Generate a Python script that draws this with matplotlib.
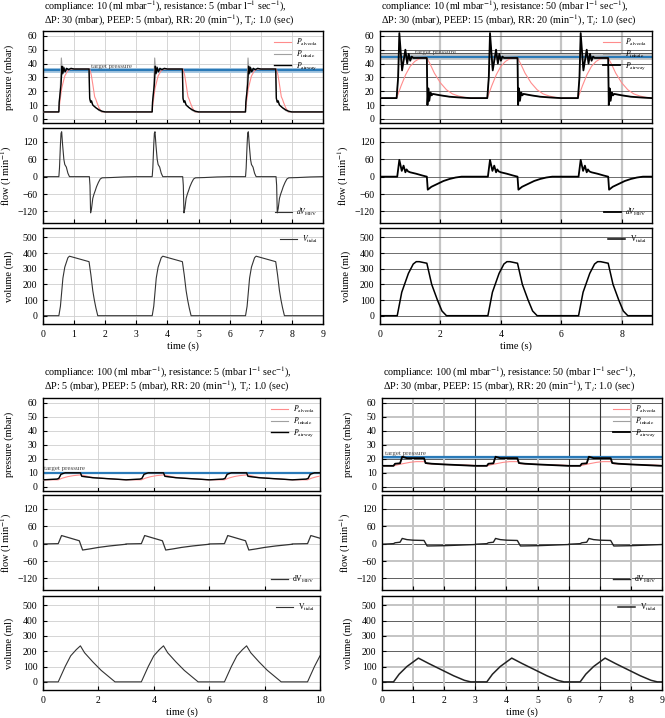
import numpy as np
import matplotlib
matplotlib.use("Agg")
import matplotlib.pyplot as plt

plt.rcParams['font.family'] = ['Liberation Serif', 'DejaVu Serif']
plt.rcParams['mathtext.fontset'] = 'stix'

# ---------------- data (one breathing cycle, period 3 s) ----------------
PERIOD = 3.0

title_line1 = [
    "compliance: 10 (ml mbar$^{-1}$), resistance: 5 (mbar l$^{-1}$ sec$^{-1}$),",
    "compliance: 10 (ml mbar$^{-1}$), resistance: 50 (mbar l$^{-1}$ sec$^{-1}$),",
    "compliance: 100 (ml mbar$^{-1}$), resistance: 5 (mbar l$^{-1}$ sec$^{-1}$),",
    "compliance: 100 (ml mbar$^{-1}$), resistance: 50 (mbar l$^{-1}$ sec$^{-1}$),",
]
title_line2 = [
    "ΔP: 30 (mbar), PEEP: 5 (mbar), RR: 20 (min$^{-1}$), T$_{i}$: 1.0 (sec)",
    "ΔP: 30 (mbar), PEEP: 15 (mbar), RR: 20 (min$^{-1}$), T$_{i}$: 1.0 (sec)",
    "ΔP: 5 (mbar), PEEP: 5 (mbar), RR: 20 (min$^{-1}$), T$_{i}$: 1.0 (sec)",
    "ΔP: 30 (mbar, PEEP: 15 (mbar), RR: 20 (min$^{-1}$), T$_{i}$: 1.0 (sec)",
]

target_pressure = [35, 45, 10, 21]
n_cycles = [3, 3, 4, 3]
x_max = [9, 9, 10, 9]

# Panel A
A_t_alv = [0, 0.5, 0.6, 0.7, 0.8, 0.9, 1.5, 1.55, 1.6, 1.66, 1.7, 1.73, 1.8, 1.88, 3.0]
A_p_alv = [5, 5, 22, 31, 35, 36, 36, 32, 25, 16, 14, 12, 8, 5, 5]
A_t_inh = [0, 0.5, 0.55, 0.59, 0.63, 0.66, 0.7, 0.75, 0.8, 1.48, 1.5, 1.55, 1.6, 1.7, 1.8, 1.9, 2.0, 3.0]
A_p_inh = [5, 5, 20, 44, 32, 38, 34, 36.5, 36, 36, 14, 12, 10, 8, 6, 5, 5, 5]
A_t_air = [0, 0.51, 0.52, 0.58, 0.61, 0.64, 0.67, 0.71, 0.76, 0.82, 0.9, 1.0, 1.48, 1.5, 1.53, 1.56, 1.6, 1.65, 1.7, 1.8, 1.9, 2.0, 3.0]
A_p_air = [5, 5, 12, 25, 38, 33, 37, 34, 36.5, 35.5, 36.5, 36, 36, 15, 12, 13, 10, 9, 8, 6.5, 5.5, 5, 5]
A_t_flow = [0, 0.51, 0.53, 0.56, 0.58, 0.6, 0.63, 0.67, 0.7, 0.75, 0.8, 0.85, 1.49, 1.51, 1.53, 1.56, 1.6, 1.64, 1.68, 1.72, 1.78, 1.84, 1.9, 2.2, 2.6, 3.0]
A_flow = [0, 0, 30, 110, 150, 155, 110, 60, 42, 33, 12, 0, 0, -30, -125, -110, -75, -60, -48, -35, -20, -8, -4, -3, -1, 0]
A_t_vol = [0, 0.51, 0.56, 0.64, 0.7, 0.75, 0.8, 0.85, 1.48, 1.54, 1.6, 1.65, 1.7, 1.76, 3.0]
A_vol = [0, 0, 60, 240, 310, 340, 370, 380, 345, 260, 160, 100, 50, 0, 0]

# Panel B
B_t_alv = [0, 0.55, 0.7, 0.85, 1.0, 1.15, 1.3, 1.55, 1.65, 1.8, 2.0, 2.2, 2.4, 2.6, 2.8, 3.0]
B_p_alv = [15, 15, 24, 32, 38, 41.5, 43.5, 44, 40, 33, 26, 21, 18, 16.5, 15.5, 15]
B_t_inh = [0, 0.55, 0.6, 0.64, 0.72, 0.83, 0.9, 0.95, 1.0, 1.05, 1.55, 1.57, 1.6, 1.63, 1.67, 1.75, 2.0, 2.3, 2.6, 3.0]
B_p_inh = [15, 15, 30, 58, 37, 49, 41, 46, 43, 45, 44.5, 11, 21, 14, 19, 18, 17, 16, 15.5, 15]
B_t_air = [0, 0.55, 0.6, 0.64, 0.73, 0.84, 0.9, 0.95, 1.0, 1.05, 1.1, 1.55, 1.57, 1.6, 1.63, 1.67, 1.71, 1.75, 2.0, 2.3, 2.6, 3.0]
B_p_air = [15, 15, 30, 62, 35, 50, 40, 47, 42, 45, 44, 44, 10, 22, 13, 19, 17, 18, 17, 16, 15.5, 15]
B_t_flow = [0, 0.57, 0.64, 0.72, 0.78, 0.84, 0.88, 0.93, 1.0, 1.2, 1.4, 1.55, 1.58, 1.7, 1.9, 2.1, 2.3, 2.5, 2.7, 3.0]
B_flow = [0, 0, 58, 20, 38, 15, 25, 18, 15, 10, 4, 0, -45, -35, -25, -15, -8, -3, 0, 0]
B_t_vol = [0, 0.57, 0.72, 0.94, 1.1, 1.2, 1.3, 1.55, 1.71, 1.9, 2.05, 2.2, 3.0]
B_vol = [0, 0, 150, 270, 330, 345, 345, 335, 200, 100, 30, 0, 0]

# Panel C
C_t_alv = [0, 0.55, 0.7, 0.9, 1.1, 1.35, 1.5, 1.7, 2.0, 2.2, 2.7, 3.0]
C_p_alv = [5, 5, 6.2, 7.3, 8.0, 8.5, 8.0, 7.0, 6.3, 6.0, 5.3, 5]
C_t_inh = [0, 0.5, 0.57, 0.65, 0.8, 1.35, 1.4, 1.6, 1.8, 2.2, 2.6, 3.0]
C_p_inh = [5, 5.5, 6, 9, 10, 10, 7.5, 7, 6.5, 6, 5.5, 5]
C_t_air = [0, 0.5, 0.57, 0.65, 0.8, 1.35, 1.4, 1.6, 1.8, 2.2, 2.6, 3.0]
C_p_air = [5, 5.5, 6, 9, 10, 10, 7.5, 7, 6.5, 6, 5.5, 5]
C_t_flow = [0, 0.55, 0.67, 1.31, 1.43, 1.7, 2.0, 2.4, 2.8, 3.0]
C_flow = [-1, 0, 28, 10, -22, -18, -13, -8, -4, -2]
C_t_vol = [0, 0.55, 0.8, 1.0, 1.2, 1.35, 1.5, 1.8, 2.1, 2.4, 2.6, 3.0]
C_vol = [0, 0, 100, 170, 210, 235, 190, 130, 75, 30, 0, 0]

# Panel D
D_t_alv = [0, 0.37, 0.55, 0.9, 1.1, 1.38, 1.45, 2.0, 2.8, 3.0]
D_p_alv = [15, 15, 16, 17.5, 18, 18, 16.5, 16, 15.5, 15.2]
D_t_inh = [0, 0.37, 0.42, 0.58, 0.65, 0.8, 1.35, 1.4, 1.6, 2.0, 2.5, 3.0]
D_p_inh = [15, 15, 16.5, 16.8, 21.5, 20.5, 20.5, 17, 16.5, 16, 15.5, 15]
D_t_air = [0, 0.37, 0.42, 0.58, 0.65, 0.8, 1.35, 1.4, 1.6, 2.0, 2.5, 3.0]
D_p_air = [15, 15, 16.5, 16.8, 21.5, 20.5, 20.5, 17, 16.5, 16, 15.5, 15]
D_t_flow = [0, 0.37, 0.42, 0.58, 0.65, 0.8, 1.0, 1.35, 1.45, 2.0, 2.5, 3.0]
D_flow = [-2, 0, 3, 5, 18, 14, 12, 11, -8, -7, -5, -3]
D_t_vol = [0, 0.37, 0.55, 0.8, 1.17, 1.5, 1.9, 2.3, 2.65, 2.85, 3.0]
D_vol = [0, 0, 50, 100, 155, 120, 80, 40, 10, 0, 0]

panels = [
    dict(alv=(A_t_alv, A_p_alv), inh=(A_t_inh, A_p_inh), air=(A_t_air, A_p_air),
         flow=(A_t_flow, A_flow), vol=(A_t_vol, A_vol)),
    dict(alv=(B_t_alv, B_p_alv), inh=(B_t_inh, B_p_inh), air=(B_t_air, B_p_air),
         flow=(B_t_flow, B_flow), vol=(B_t_vol, B_vol)),
    dict(alv=(C_t_alv, C_p_alv), inh=(C_t_inh, C_p_inh), air=(C_t_air, C_p_air),
         flow=(C_t_flow, C_flow), vol=(C_t_vol, C_vol)),
    dict(alv=(D_t_alv, D_p_alv), inh=(D_t_inh, D_p_inh), air=(D_t_air, D_p_air),
         flow=(D_t_flow, D_flow), vol=(D_t_vol, D_vol)),
]

pressure_ticks = [0, 10, 20, 30, 40, 50, 60]
flow_ticks = [-120, -60, 0, 60, 120]
volume_ticks = [0, 100, 200, 300, 400, 500]


def tile(series, n):
    t, y = series
    T = np.concatenate([np.asarray(t, float) + k * PERIOD for k in range(n)])
    Y = np.tile(np.asarray(y, float), n)
    return T, Y


# ---------------- layout ----------------
W, H = 665, 718
fig = plt.figure(figsize=(W / 100, H / 100), dpi=100)


def px_axes(x0, x1, ytop, ybot):
    return fig.add_axes([x0 / W, 1 - ybot / H, (x1 - x0) / W, (ybot - ytop) / H])


cols = [(43, 323), (380, 652), (43, 320), (382, 662)]
rows_top = [(31, 123), (128, 223), (228, 324)]
rows_bot = [(398, 491), (495, 590), (596, 690)]
title_baseline = [24.0, 24.0, 390.0, 390.0]   # baseline of the second title line

legend_kw = dict(frameon=False, fontsize=5.5, handlelength=2.2, handletextpad=0.6,
                 labelspacing=0.1, borderaxespad=0.3)

for i, p in enumerate(panels):
    x0, x1 = cols[i]
    rows = rows_top if i < 2 else rows_bot
    axp = px_axes(x0, x1, *rows[0])
    axf = px_axes(x0, x1, *rows[1])
    axv = px_axes(x0, x1, *rows[2])
    n = n_cycles[i]
    tp = target_pressure[i]

    # target band
    if i == 0:
        axp.axhspan(tp - 2, tp + 2, color='#a9c9e2', lw=0, zorder=1)
        axp.axhline(tp, color='#2a7ab8', lw=1.6, zorder=2)
    elif i == 1:
        axp.axhspan(tp - 2.5, tp + 2.5, color='#c8c8c8', lw=0, zorder=1)
        axp.axhline(tp + 2.5, color='#555555', lw=0.7, zorder=1)
        axp.axhline(tp, color='#2a7ab8', lw=1.6, zorder=2)
    elif i == 2:
        axp.axhline(tp, color='#2a7ab8', lw=1.6, zorder=2)
    else:
        axp.axhspan(tp - 1, tp + 1, color='#a9c9e2', lw=0, zorder=1)
        axp.axhline(tp, color='#2a7ab8', lw=1.6, zorder=2)

    tx = [1.55, 1.15, 0.05, 0.1][i]
    axp.text(tx, tp + 1.8, "target pressure", fontsize=5, color='#444444', zorder=5)

    lw_main = [1.0, 1.3, 1.0, 1.3][i]
    axp.plot(*tile(p['alv'], n), color='#ff8c8c', lw=0.8, label=r'$P_{\rm alveola}$', zorder=3)
    axp.plot(*tile(p['inh'], n), color='#a0a0a0', lw=0.8, label=r'$P_{\rm inhale}$', zorder=3)
    axp.plot(*tile(p['air'], n), color='black', lw=lw_main, label=r'$P_{\rm airway}$', zorder=4)
    axp.legend(loc='upper right', **legend_kw)

    fl_col = ['#333333', 'black', '#333333', '#222222'][i]
    axf.plot(*tile(p['flow'], n), color=fl_col, lw=[0.8, 1.3, 0.9, 1.0][i],
             label=[r'$dV_{\rm HEV}$', r'$dV_{\rm HEV}$', r'dV$_{\rm HEV}$', r'dV$_{\rm HEV}$'][i])
    axf.legend(loc='lower right', **legend_kw)

    axv.plot(*tile(p['vol'], n), color=fl_col, lw=[0.8, 1.1, 0.8, 1.1][i],
             label=[r'$V_{\rm tidal}$', r'V$_{\rm tidal}$', r'V$_{\rm tidal}$', r'V$_{\rm tidal}$'][i])
    axv.legend(loc='upper right', **legend_kw)

    axp.set_ylim(-3, 63.5)
    axp.set_yticks(pressure_ticks)
    axf.set_ylim(-160, 168)
    axf.set_yticks(flow_ticks)
    axv.set_ylim(-53, 560)
    axv.set_yticks(volume_ticks)

    axp.set_ylabel("pressure (mbar)", fontsize=7.5)
    axf.set_ylabel("flow (l min$^{-1}$)", fontsize=7.5)
    axv.set_ylabel("volume (ml)", fontsize=7.5)
    axv.set_xlabel("time (s)", fontsize=7.5, labelpad=2)

    if i == 0:
        xt = list(range(0, 10))
    elif i == 1:
        xt = [0, 2, 4, 6, 8]
    elif i == 2:
        xt = [0, 2, 4, 6, 8, 10]
    else:
        xt = list(range(0, 10))

    for ax in (axp, axf, axv):
        ax.set_xlim(0, x_max[i])
        ax.set_xticks(xt)
        ax.tick_params(direction='in', length=3, width=0.8, labelsize=7,
                       top=False, right=False, pad=4)
        for s in ax.spines.values():
            s.set_linewidth(1.0)
        ax.set_axisbelow(True)
        ax.yaxis.set_label_coords(-0.105, 0.5)
        if i in (0, 2):
            ax.grid(True, color='#cfcfcf', lw=0.6)
        elif i == 1:
            ax.grid(True, axis='y', color='#555555', lw=0.6)
            ax.grid(True, axis='x', color='#c4c4c4', lw=1.6)
        else:
            yts = ax.get_yticks()
            for k, yv in enumerate(yts):
                ax.axhline(yv, color='#444444' if k % 2 == 0 else '#c4c4c4',
                           lw=0.6 if k % 2 == 0 else 1.4, zorder=0)
            for xv in range(1, 9):
                dark = xv in (3, 6, 7)
                ax.axvline(xv, color='#333333' if dark else '#c4c4c4',
                           lw=0.8 if dark else 1.4, zorder=0)
    for ax in (axp, axf):
        ax.tick_params(labelbottom=False)

    fig.text((x0 + 1) / W, 1 - title_baseline[i] / H,
             title_line1[i] + "\n" + title_line2[i],
             fontsize=7.3, ha='left', va='baseline', linespacing=0.88)

fig.savefig("out.png", dpi=100)
